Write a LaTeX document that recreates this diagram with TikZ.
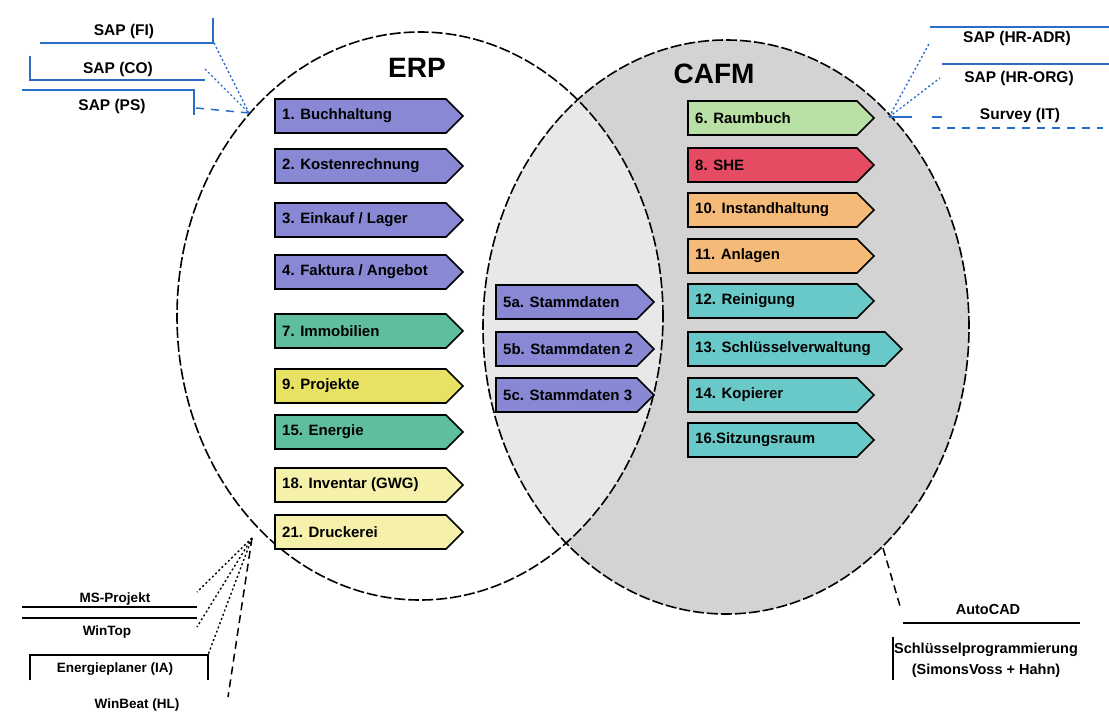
\documentclass[tikz,border=0pt]{standalone}
\usepackage{fontspec}
\setmainfont{Liberation Sans}
\definecolor{lav}{RGB}{136,136,212}
\definecolor{seag}{RGB}{95,190,155}
\definecolor{yel}{RGB}{232,226,100}
\definecolor{lyel}{RGB}{245,240,170}
\definecolor{lgreen}{RGB}{185,225,165}
\definecolor{redb}{RGB}{230,75,100}
\definecolor{orng}{RGB}{245,185,120}
\definecolor{cyanb}{RGB}{105,200,200}
\definecolor{grayA}{RGB}{211,211,211}
\definecolor{grayB}{RGB}{232,232,232}
\definecolor{lblue}{RGB}{40,110,200}
\newcommand{\abox}[6]{%
  \draw[boxline, fill=#5] (#2,#3-17) -- (#2+#4-17,#3-17) -- (#2+#4,#3) -- (#2+#4-17,#3+17) -- (#2,#3+17) -- cycle;
  \node[boxtext] (#1) at (#2+7,#3) {#6};
}
\begin{document}
\begin{tikzpicture}[x=1pt,y=-1pt,
  ell/.style={draw=black, line width=1.6pt, dash pattern=on 11pt off 3pt},
  boxline/.style={draw=black, line width=1.6pt, line join=miter},
  boxtext/.style={font=\bfseries\fontsize{15}{17}\selectfont, inner sep=0pt, anchor=west},
  labT/.style={font=\bfseries\fontsize{15.5}{18}\selectfont, inner sep=0pt},
  labBL/.style={font=\bfseries\fontsize{13.5}{16}\selectfont, inner sep=0pt},
  labBR/.style={font=\bfseries\fontsize{14.5}{21}\selectfont, inner sep=0pt, align=center},
  titl/.style={font=\bfseries\fontsize{28}{32}\selectfont, inner sep=0pt},
  bl/.style={draw=lblue, line width=1.5pt},
  bldot/.style={draw=lblue, line width=1.4pt, dash pattern=on 2pt off 2.5pt},
  bldash/.style={draw=lblue, line width=1.5pt, dash pattern=on 8pt off 7pt},
  kl/.style={draw=black, line width=1.5pt},
  kdot/.style={draw=black, line width=1.4pt, dash pattern=on 2pt off 2.5pt},
  kdash/.style={draw=black, line width=1.5pt, dash pattern=on 8pt off 5pt}
]
\useasboundingbox (0,0) rectangle (1109,717);
\fill[white] (0,0) rectangle (1109,717);
% ellipses
\fill[grayA] (726,327) ellipse [x radius=243pt, y radius=287pt];
\begin{scope}
  \clip (420,316) ellipse [x radius=243pt, y radius=284pt];
  \fill[grayB] (726,327) ellipse [x radius=243pt, y radius=287pt];
\end{scope}
\draw[ell] (420,316) ellipse [x radius=243pt, y radius=284pt];
\draw[ell] (726,327) ellipse [x radius=243pt, y radius=287pt];
% titles
\node[titl] (erp) at (417,68) {ERP};
\node[titl] (cafm) at (714,74) {CAFM};
% ERP boxes
\abox{b1}{275}{116}{188}{lav}{1. Buchhaltung}
\abox{b2}{275}{166}{188}{lav}{2. Kostenrechnung}
\abox{b3}{275}{220}{188}{lav}{3. Einkauf / Lager}
\abox{b4}{275}{272}{188}{lav}{4. Faktura / Angebot}
\abox{b7}{275}{331}{188}{seag}{7. Immobilien}
\abox{b9}{275}{386}{188}{yel}{9. Projekte}
\abox{b15}{275}{432}{188}{seag}{15. Energie}
\abox{b18}{275}{485}{188}{lyel}{18. Inventar (GWG)}
\abox{b21}{275}{532}{188}{lyel}{21. Druckerei}
% shared boxes
\abox{b5a}{496}{302}{158}{lav}{5a. Stammdaten}
\abox{b5b}{496}{349}{158}{lav}{5b. Stammdaten 2}
\abox{b5c}{496}{395}{158}{lav}{5c. Stammdaten 3}
% CAFM boxes
\abox{b6}{688}{118}{186}{lgreen}{6. Raumbuch}
\abox{b8}{688}{165}{186}{redb}{8. SHE}
\abox{b10}{688}{210}{186}{orng}{10. Instandhaltung}
\abox{b11}{688}{256}{186}{orng}{11. Anlagen}
\abox{b12}{688}{301}{186}{cyanb}{12. Reinigung}
\abox{b13}{688}{349}{214}{cyanb}{13. Schlüsselverwaltung}
\abox{b14}{688}{395}{186}{cyanb}{14. Kopierer}
\abox{b16}{688}{440}{186}{cyanb}{16.Sitzungsraum}
% top left externals
\node[labT] (fi) at (124,31) {SAP (FI)};
\node[labT] (co) at (118,69) {SAP (CO)};
\node[labT] (ps) at (112,106) {SAP (PS)};
\draw[bl] (40,43) -- (213,43) -- (213,18);
\draw[bl] (30,56) -- (30,80) -- (205,80);
\draw[bl] (22,90) -- (194,90) -- (194,115);
\coordinate (jL) at (249,113);
\coordinate (fiE) at (214,43);
\coordinate (coE) at (205,69);
\coordinate (psE) at (196,108);
\draw[bldot] (fiE) -- (jL);
\draw[bldot] (coE) -- (jL);
\draw[bldash] (psE) -- (jL);
% top right externals
\node[labT] (hradr) at (1017,38) {SAP (HR-ADR)};
\node[labT] (hrorg) at (1019,78) {SAP (HR-ORG)};
\node[labT] (survey) at (1020,115) {Survey (IT)};
\draw[bl] (930,27) -- (1109,27);
\draw[bl] (942,64) -- (1109,64);
\draw[bldash] (932,128) -- (1103,128);
\coordinate (jR) at (889,117);
\coordinate (adrE) at (930,42);
\coordinate (orgE) at (940,78);
\coordinate (svE) at (942,117);
\draw[bldot] (jR) -- (adrE);
\draw[bldot] (jR) -- (orgE);
\draw[bl, dash pattern=on 23pt off 20pt on 10pt] (jR) -- (svE);
% bottom left externals
\node[labBL] (msp) at (115,599) {MS-Projekt};
\node[labBL] (wintop) at (107,632) {WinTop};
\node[labBL] (enpl) at (115,669) {Energieplaner (IA)};
\node[labBL] (winbeat) at (137,705) {WinBeat (HL)};
\draw[kl] (22,607) -- (197,607);
\draw[kl] (22,618) -- (197,618);
\draw[kl] (30,680) -- (30,655) -- (208,655) -- (208,680);
\coordinate (jLB) at (252,538);
\coordinate (mspE) at (197,592);
\coordinate (wtE) at (197,627);
\coordinate (enE) at (208,655);
\coordinate (wbE) at (228,697);
\draw[kdot] (jLB) -- (mspE);
\draw[kdot] (jLB) -- (wtE);
\draw[kdot] (jLB) -- (enE);
\draw[kdash] (jLB) -- (wbE);
% bottom right externals
\node[labBR] (acad) at (988,610) {AutoCAD};
\node[labBR] (schl) at (986,660) {Schlüsselprogrammierung\\(SimonsVoss + Hahn)};
\draw[kl] (903,623) -- (1080,623);
\draw[kl] (893,637) -- (893,680);
\coordinate (jRB) at (883,548);
\coordinate (acE) at (900,606);
\draw[kdash] (jRB) -- (acE);
\end{tikzpicture}
\end{document}
